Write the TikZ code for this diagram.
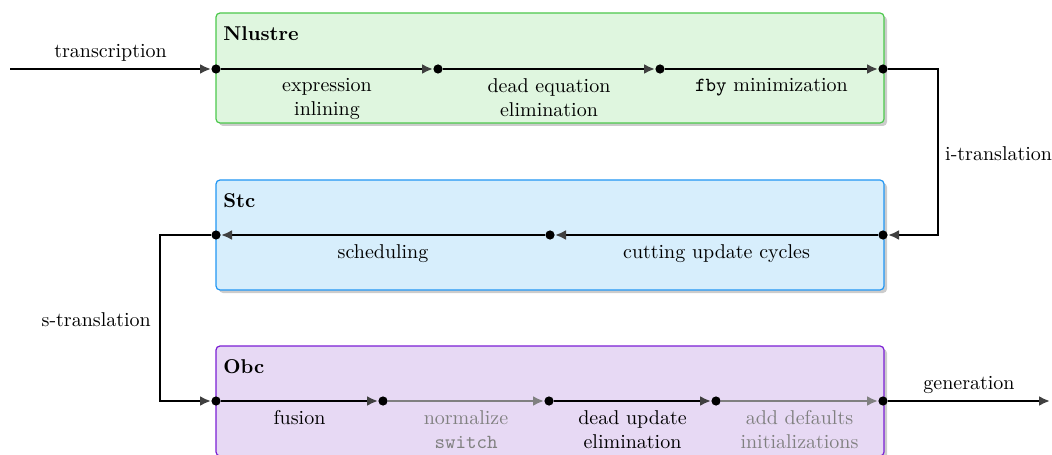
\documentclass[tikz,border=0pt]{standalone}
\usetikzlibrary{arrows.meta,shadows,positioning}
\definecolor{nlfill}{HTML}{DFF6DF}
\definecolor{nldraw}{HTML}{4CC84C}
\definecolor{stfill}{HTML}{D7EEFC}
\definecolor{stdraw}{HTML}{2196F3}
\definecolor{obfill}{HTML}{E7D9F4}
\definecolor{obdraw}{HTML}{7B1FD4}
\definecolor{tipc}{HTML}{404040}
\tikzset{
  stage/.style={rounded corners=2pt, line width=0.6pt, minimum width=334pt, minimum height=55pt,
    drop shadow={shadow xshift=1.5pt, shadow yshift=-1.5pt, opacity=0.4}},
  dotn/.style={circle, fill=black, inner sep=0pt, minimum size=4.6pt},
  flow/.style={line width=1.2pt, -{Latex[length=5.5pt,width=5pt,color=tipc]}},
  gflow/.style={line width=1.2pt, gray, -{Latex[length=5.5pt,width=5pt,color=gray]}},
  lbl/.style={align=center, inner sep=1pt, below=3pt, font=\normalsize},
  glbl/.style={lbl, text=gray},
  title/.style={anchor=north west, font=\bfseries, inner sep=0pt}
}
\begin{document}
\begin{tikzpicture}[x=0.5pt,y=-0.5pt]
\useasboundingbox (0,0) rectangle (1052,454);
% boxes
\node[stage, fill=nlfill, draw=nldraw] (nl) at (550,68) {};
\node[stage, fill=stfill, draw=stdraw] (st) at (550,235) {};
\node[stage, fill=obfill, draw=obdraw] (ob) at (550,401) {};
\node[title] (nlt) at (223,26) {Nlustre};
\node[title] (stt) at (223,193) {Stc};
\node[title] (obt) at (223,359) {Obc};
% dots
\node[dotn] (n1) at (216,69) {};
\node[dotn] (n2) at (438,69) {};
\node[dotn] (n3) at (660,69) {};
\node[dotn] (n4) at (883,69) {};
\node[dotn] (s1) at (883,235) {};
\node[dotn] (s2) at (550,235) {};
\node[dotn] (s3) at (216,235) {};
\node[dotn] (o1) at (216,401) {};
\node[dotn] (o2) at (383,401) {};
\node[dotn] (o3) at (549,401) {};
\node[dotn] (o4) at (716,401) {};
\node[dotn] (o5) at (883,401) {};
\coordinate (in) at (10,69);
\coordinate (out) at (1050,401);
\coordinate (ic) at (938,69);
\coordinate (sc) at (160,235);
% Nlustre
\draw[flow] (in) -- node[above=2pt, inner sep=1pt] {transcription} (n1);
\draw[flow] (n1) -- node[lbl] {expression\\inlining} (n2);
\draw[flow] (n2) -- node[lbl] {dead equation\\elimination} (n3);
\draw[flow] (n3) -- node[lbl] {\texttt{fby} minimization} (n4);
% i-translation
\draw[flow] (n4) -- (ic) -- node[right=2pt, inner sep=1pt, yshift=-1pt] {i-translation} (ic |- s1) -- (s1);
% Stc
\draw[flow] (s1) -- node[lbl] {cutting update cycles} (s2);
\draw[flow] (s2) -- node[lbl] {scheduling} (s3);
% s-translation
\draw[flow] (s3) -- (sc) -- node[left=3pt, inner sep=1pt, yshift=-1pt] {s-translation} (sc |- o1) -- (o1);
% Obc
\draw[flow] (o1) -- node[lbl] {fusion} (o2);
\draw[gflow] (o2) -- node[glbl] {normalize\\\texttt{switch}} (o3);
\draw[flow] (o3) -- node[lbl] {dead update\\elimination} (o4);
\draw[gflow] (o4) -- node[glbl] {add defaults\\initializations} (o5);
\draw[flow] (o5) -- node[above=2pt, inner sep=1pt] {generation} (out);
\end{tikzpicture}
\end{document}
